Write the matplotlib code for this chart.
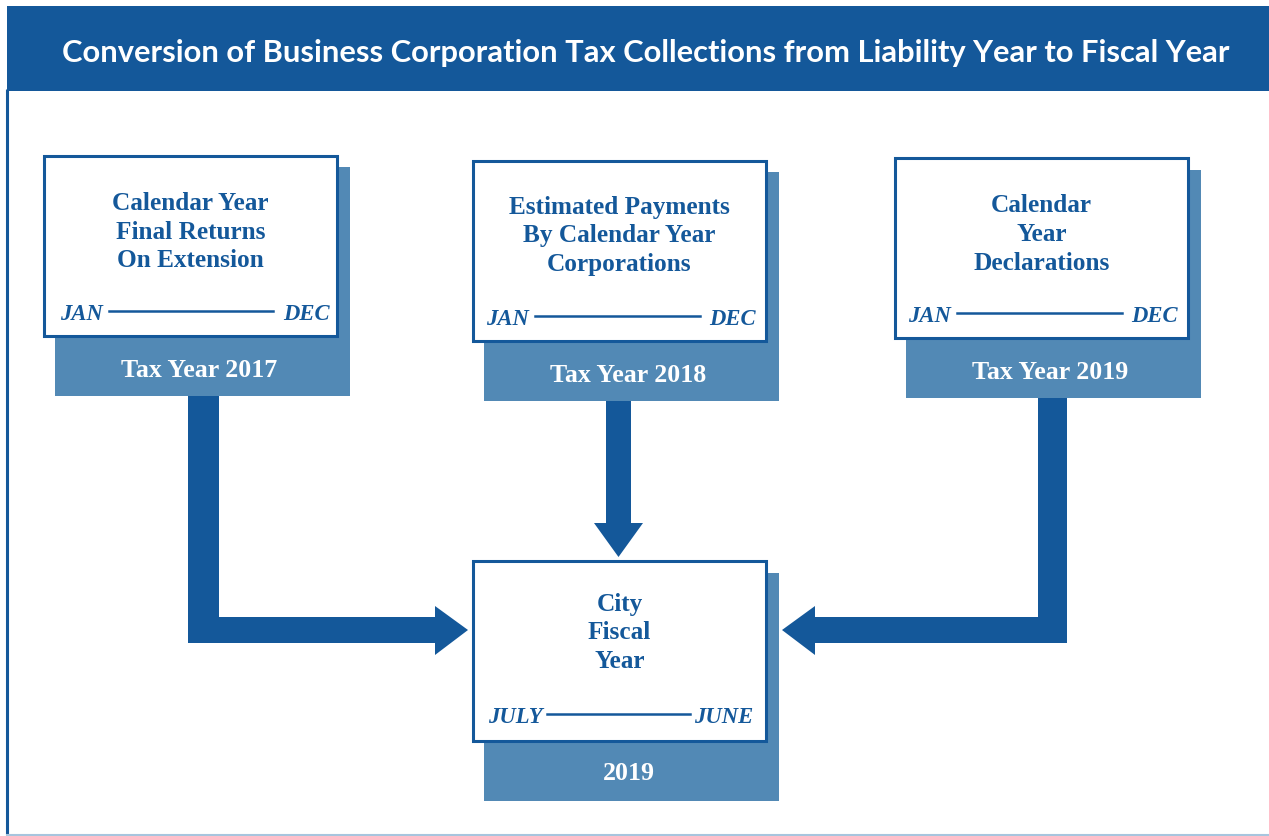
import matplotlib.pyplot as plt
from matplotlib.patches import Rectangle, Polygon

DARK = '#14589a'
LIGHT = '#5289b5'

title = 'Conversion of Business Corporation Tax Collections from Liability Year to Fiscal Year'

# box text
box_lines = [
    ['Calendar Year', 'Final Returns', 'On Extension'],
    ['Estimated Payments', 'By Calendar Year', 'Corporations'],
    ['Calendar', 'Year', 'Declarations'],
    ['City', 'Fiscal', 'Year'],
]
start_months = ['JAN', 'JAN', 'JAN', 'JULY']
end_months = ['DEC', 'DEC', 'DEC', 'JUNE']
tab_labels = ['Tax Year 2017', 'Tax Year 2018', 'Tax Year 2019', '2019']

# layout in pixels: white box (x0, y0, x1, y1), shadow (x0, y0, x1, y1)
white = [(44, 157, 337, 337), (473, 162, 766, 342), (895, 159, 1188, 339), (473, 562, 766, 742)]
shadow = [(55, 168, 350, 397), (484, 173, 779, 402), (906, 171, 1201, 399), (484, 574, 779, 802)]
text_base = [(210, 239, 267), (214, 242, 271), (212, 241, 270), (611, 639, 668)]
month_base = [320, 325, 322, 723]
month_line = [(109, 273, 312), (535, 700, 317), (957, 1122, 314), (547, 690, 715)]
month_pad = [(16, 7), (13, 10), (13, 10), (15, 13)]
tab_base = [377, 382, 379, 780]

fig = plt.figure(figsize=(12.69, 8.37), dpi=100)
ax = fig.add_axes([0, 0, 1, 1])
ax.set_xlim(0, 1269)
ax.set_ylim(837, 0)
ax.axis('off')

# frame + title band
ax.add_patch(Rectangle((7, 7), 1262, 85, color=DARK, lw=0))
ax.plot([7, 7], [90, 835], color=DARK, lw=2.2, solid_capstyle='butt')
ax.plot([7, 1269], [835.5, 835.5], color='#a7c5de', lw=1.5)
ax.text(646, 62, title, color='white', fontsize=22.2, fontweight='bold',
        family='Lato', ha='center', va='baseline')

serif = 'Liberation Serif'
for i in range(4):
    sx0, sy0, sx1, sy1 = shadow[i]
    ax.add_patch(Rectangle((sx0, sy0), sx1 - sx0, sy1 - sy0, color=LIGHT, lw=0, zorder=1))
    wx0, wy0, wx1, wy1 = white[i]
    ax.add_patch(Rectangle((wx0, wy0), wx1 - wx0, wy1 - wy0, facecolor='white',
                           edgecolor=DARK, lw=2.2, zorder=2))
    cx = (wx0 + wx1) / 2
    for line, yb in zip(box_lines[i], text_base[i]):
        ax.text(cx, yb, line, color=DARK, fontsize=18.2, fontweight='bold', family=serif,
                ha='center', va='baseline', zorder=3)
    pl, pr = month_pad[i]
    ax.text(wx0 + pl, month_base[i], start_months[i], color=DARK, fontsize=16.3,
            fontweight='bold', style='italic', family=serif, ha='left', va='baseline', zorder=3)
    ax.text(wx1 - pr, month_base[i], end_months[i], color=DARK, fontsize=16.3,
            fontweight='bold', style='italic', family=serif, ha='right', va='baseline', zorder=3)
    lx0, lx1, ly = month_line[i]
    ax.plot([lx0, lx1], [ly, ly], color=DARK, lw=1.8, zorder=3)
    ax.text((sx0 + sx1) / 2 - 3, tab_base[i], tab_labels[i], color='white', fontsize=18.6,
            fontweight='bold', family=serif, ha='center', va='baseline', zorder=3)

# arrows
left_arrow = [(188, 397), (219, 397), (219, 618), (435, 618), (435, 607), (468, 631),
              (435, 656), (435, 644), (188, 644)]
mid_arrow = [(606, 402), (631, 402), (631, 524), (643, 524), (618.5, 558), (594, 524), (606, 524)]
right_arrow = [(1067, 399), (1038, 399), (1038, 618), (815, 618), (815, 607), (782, 631),
               (815, 656), (815, 644), (1067, 644)]
for pts in [left_arrow, mid_arrow, right_arrow]:
    ax.add_patch(Polygon(pts, closed=True, color=DARK, lw=0, zorder=2))

fig.savefig('out.png', dpi=100)
